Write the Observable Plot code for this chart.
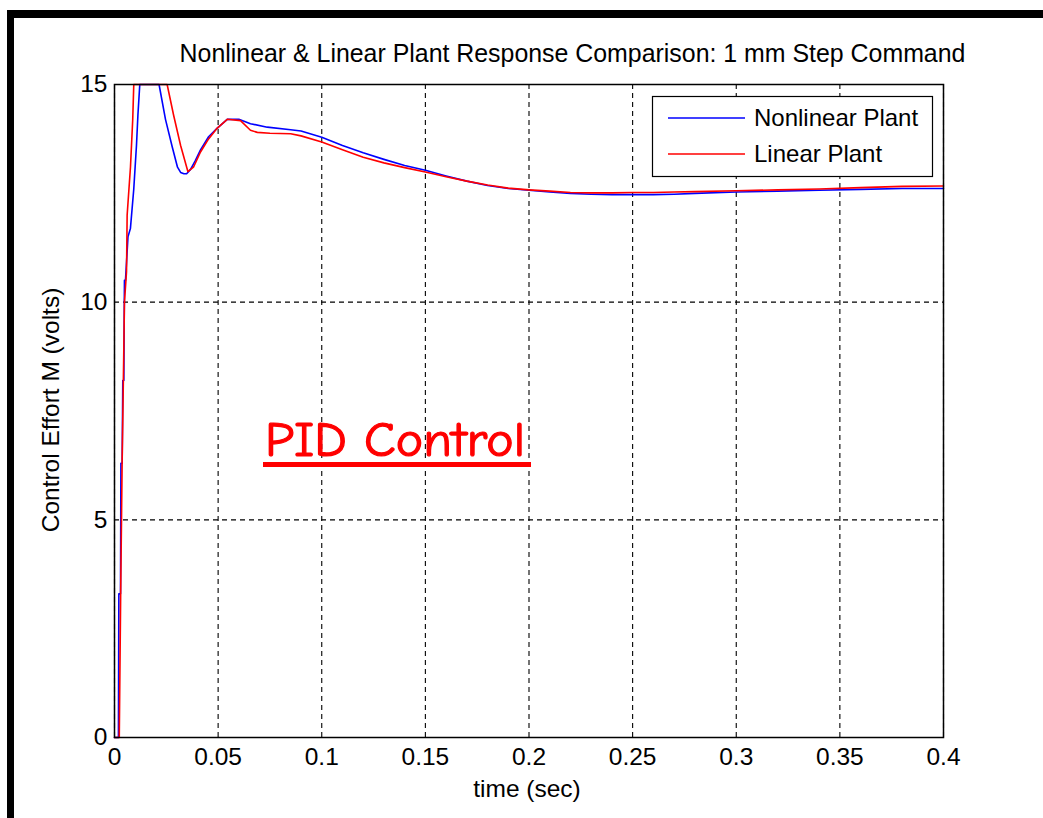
<!DOCTYPE html>
<html><head><meta charset="utf-8">
<script src="https://cdn.jsdelivr.net/npm/d3@7"></script>
<script src="https://cdn.jsdelivr.net/npm/@observablehq/plot@0.6"></script>
<style>
body{margin:0;background:#fff;}
#wrap{position:relative;width:1043px;height:818px;overflow:hidden;background:#fff;}
#wrap svg{position:absolute;left:0;top:0;}
</style></head><body><div id="wrap"></div>
<script>
const xTicks = [0, 0.05, 0.1, 0.15, 0.2, 0.25, 0.3, 0.35, 0.4];
const yTicks = [0, 5, 10, 15];
const seriesNames = ["Nonlinear Plant", "Linear Plant"];

const tNonlinear = [0, 0.0019, 0.0021, 0.0029, 0.0031, 0.0037, 0.0040, 0.0045, 0.0048, 0.0053, 0.0065, 0.0077, 0.0093, 0.0106, 0.0113, 0.0122, 0.0215, 0.0246, 0.0279, 0.0304, 0.0319, 0.0335, 0.0348, 0.0367, 0.0390, 0.0415, 0.0454, 0.0496, 0.0544, 0.0600, 0.0656, 0.0737, 0.085, 0.090, 0.100, 0.110, 0.120, 0.130, 0.140, 0.150, 0.160, 0.170, 0.180, 0.190, 0.200, 0.210, 0.220, 0.230, 0.240, 0.250, 0.260, 0.270, 0.280, 0.300, 0.320, 0.340, 0.360, 0.380, 0.400];
const vNonlinear = [0, 0, 3.3, 3.3, 6.3, 6.3, 8.2, 8.2, 10.5, 10.5, 11.5, 11.7, 12.6, 13.6, 14.3, 15, 15, 14.2, 13.56, 13.1, 12.98, 12.95, 12.95, 13.05, 13.25, 13.5, 13.8, 14.0, 14.2, 14.2, 14.1, 14.02, 13.96, 13.93, 13.79, 13.6, 13.43, 13.28, 13.14, 13.03, 12.9, 12.78, 12.68, 12.61, 12.57, 12.53, 12.5, 12.48, 12.47, 12.47, 12.47, 12.48, 12.5, 12.53, 12.55, 12.57, 12.59, 12.61, 12.61];

const tLinear = [0, 0.0023, 0.0030, 0.0037, 0.0044, 0.0048, 0.0058, 0.0061, 0.0077, 0.0088, 0.0093, 0.0254, 0.0285, 0.0319, 0.0354, 0.0381, 0.0415, 0.0454, 0.0496, 0.0544, 0.0608, 0.0656, 0.0689, 0.075, 0.085, 0.090, 0.100, 0.110, 0.120, 0.130, 0.140, 0.150, 0.160, 0.170, 0.180, 0.190, 0.200, 0.210, 0.220, 0.230, 0.240, 0.250, 0.260, 0.270, 0.280, 0.300, 0.320, 0.340, 0.360, 0.380, 0.400];
const vLinear = [0, 0, 3.4, 6.4, 8.6, 10.0, 10.7, 12.0, 13.1, 14.2, 15, 15, 14.3, 13.6, 13.0, 13.1, 13.45, 13.75, 14.0, 14.2, 14.17, 13.95, 13.9, 13.88, 13.87, 13.82, 13.68, 13.5, 13.33, 13.2, 13.09, 12.99, 12.88, 12.78, 12.69, 12.62, 12.58, 12.55, 12.52, 12.51, 12.51, 12.52, 12.52, 12.53, 12.54, 12.56, 12.58, 12.6, 12.63, 12.66, 12.67];

const nonlinear = tNonlinear.map((t, i) => ({t, v: vNonlinear[i]}));
const linear = tLinear.map((t, i) => ({t, v: vLinear[i]}));

const W = 1043, H = 818;
const FONT = "'Liberation Sans', Arial, Helvetica, sans-serif";
const fmt = d3.format("~g");

const chart = Plot.plot({
  width: W, height: H,
  marginLeft: 114, marginRight: 100, marginTop: 84, marginBottom: 81,
  style: {fontFamily: FONT, fontSize: "24px", background: "transparent", color: "#000"},
  x: {domain: [0, 0.4], label: null},
  y: {domain: [0, 15], label: null},
  marks: [
    Plot.gridX(xTicks, {stroke: "#000", strokeOpacity: 1, strokeWidth: 1.1, strokeDasharray: "5,4"}),
    Plot.gridY(yTicks, {stroke: "#000", strokeOpacity: 1, strokeWidth: 1.1, strokeDasharray: "5,4"}),
    Plot.axisX(xTicks, {tickSize: 0, tickPadding: 10, fontSize: 24.5, tickFormat: fmt, label: null}),
    Plot.axisY(yTicks, {tickSize: 0, tickPadding: 7, fontSize: 24.5, tickFormat: fmt, label: null}),
    Plot.line(nonlinear, {x: "t", y: "v", stroke: "#0000ff", strokeWidth: 1.6}),
    Plot.line(linear, {x: "t", y: "v", stroke: "#ff0000", strokeWidth: 1.6}),
    Plot.frame({stroke: "#000", strokeWidth: 1.5})
  ]
});
document.getElementById("wrap").appendChild(chart);

// overlay for figure texts, legend, annotation and border
const ov = d3.select("#wrap").append("svg")
  .attr("width", W).attr("height", H)
  .style("font-family", FONT);

ov.append("rect").attr("x", 7).attr("y", 10).attr("width", W - 7).attr("height", 8).attr("fill", "#000");
ov.append("rect").attr("x", 7).attr("y", 10).attr("width", 7).attr("height", H - 10).attr("fill", "#000");

ov.append("text").attr("x", 572.5).attr("y", 62).attr("text-anchor", "middle")
  .attr("font-size", 24.9).attr("fill", "#000")
  .text("Nonlinear & Linear Plant Response Comparison: 1 mm Step Command");

ov.append("text").attr("x", 527).attr("y", 797).attr("text-anchor", "middle")
  .attr("font-size", 24.5).attr("fill", "#000").text("time (sec)");

ov.append("text").attr("transform", "translate(59,410) rotate(-90)").attr("text-anchor", "middle")
  .attr("font-size", 24.5).attr("fill", "#000").text("Control Effort M (volts)");

// legend
const lg = ov.append("g");
lg.append("rect").attr("x", 652.5).attr("y", 96.5).attr("width", 280).attr("height", 80)
  .attr("fill", "#fff").attr("stroke", "#000").attr("stroke-width", 1.2);
const colors = ["#0000ff", "#ff0000"];
seriesNames.forEach((name, i) => {
  const yy = 118 + i * 36;
  lg.append("line").attr("x1", 668).attr("x2", 745).attr("y1", yy).attr("y2", yy)
    .attr("stroke", colors[i]).attr("stroke-width", 1.6);
  lg.append("text").attr("x", 754).attr("y", yy + 8).attr("font-size", 24).attr("fill", "#000").text(name);
});

// annotation
ov.append("text").attr("x", 265).attr("y", 456)
  .attr("font-family", "'Comic Sans MS', 'Comic Neue', 'DejaVu Sans', sans-serif")
  .attr("font-size", 48).attr("fill", "#ff0000")
  .attr("stroke", "#ff0000").attr("stroke-width", 1.2)
  .attr("textLength", 260).attr("lengthAdjust", "spacingAndGlyphs")
  .text("PID Control");
ov.append("rect").attr("x", 263).attr("y", 462).attr("width", 268).attr("height", 5).attr("fill", "#ff0000");
</script></body></html>
